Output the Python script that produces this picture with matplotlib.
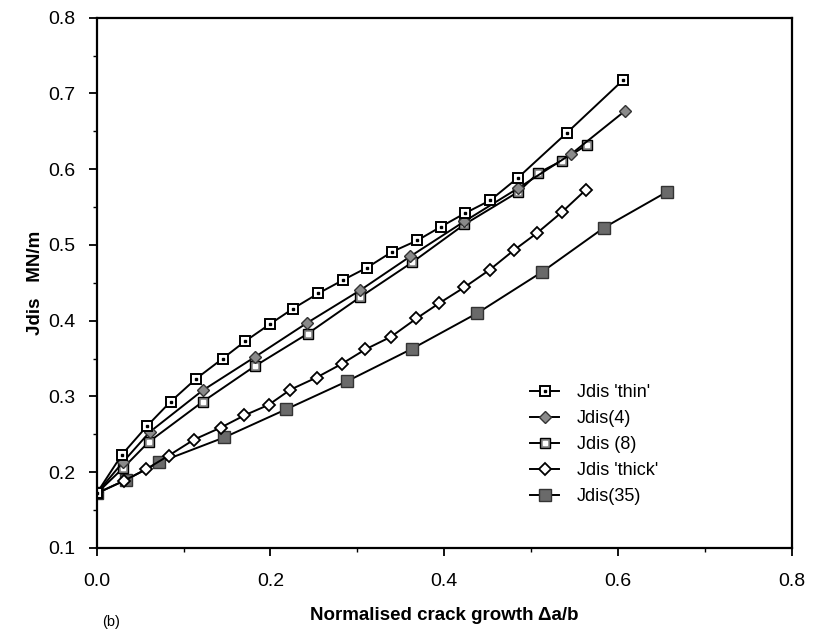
import matplotlib
matplotlib.use('Agg')
import matplotlib.pyplot as plt
from matplotlib.ticker import MultipleLocator, FormatStrFormatter

plt.rcParams['font.family'] = ['Liberation Sans', 'DejaVu Sans']

# data (x = normalised crack growth, y = Jdis MN/m)
thin_x = [0.0, 0.029, 0.058, 0.085, 0.114, 0.145, 0.171, 0.200, 0.226, 0.255, 0.284,
          0.311, 0.340, 0.369, 0.396, 0.424, 0.453, 0.485, 0.541, 0.606]
thin_y = [0.172, 0.223, 0.261, 0.293, 0.323, 0.350, 0.373, 0.396, 0.416, 0.436, 0.454,
          0.470, 0.491, 0.506, 0.524, 0.542, 0.559, 0.589, 0.648, 0.718]

j4_x = [0.0, 0.030, 0.061, 0.122, 0.182, 0.242, 0.303, 0.361, 0.423, 0.485, 0.546, 0.608]
j4_y = [0.172, 0.213, 0.253, 0.308, 0.352, 0.397, 0.440, 0.485, 0.531, 0.575, 0.620, 0.677]

j8_x = [0.0, 0.030, 0.060, 0.122, 0.182, 0.243, 0.303, 0.363, 0.423, 0.485, 0.508, 0.535, 0.564]
j8_y = [0.172, 0.205, 0.240, 0.293, 0.340, 0.383, 0.431, 0.477, 0.527, 0.570, 0.595, 0.611, 0.632]

thick_x = [0.0, 0.032, 0.057, 0.083, 0.112, 0.143, 0.170, 0.198, 0.223, 0.253, 0.282,
           0.309, 0.339, 0.368, 0.394, 0.423, 0.452, 0.480, 0.507, 0.535, 0.563]
thick_y = [0.172, 0.189, 0.204, 0.222, 0.243, 0.259, 0.275, 0.289, 0.309, 0.325, 0.343,
           0.362, 0.379, 0.403, 0.423, 0.444, 0.467, 0.493, 0.516, 0.543, 0.573]

j35_x = [0.0, 0.034, 0.072, 0.147, 0.218, 0.288, 0.363, 0.438, 0.512, 0.584, 0.656]
j35_y = [0.172, 0.190, 0.213, 0.246, 0.283, 0.320, 0.363, 0.410, 0.464, 0.523, 0.570]

fig = plt.figure(figsize=(8.19, 6.32), dpi=100)
ax = fig.add_axes([0.118, 0.133, 0.849, 0.839])

lw = 1.4
ms = 7
# Jdis(35): dark hatched squares
l35 = ax.plot(j35_x, j35_y, '-', color='black', lw=lw, marker='s', ms=ms + 1,
              mfc='#6a6a6a', mec='#333333', mew=1.0)[0]
# Jdis 'thick': open diamonds
lthk = ax.plot(thick_x, thick_y, '-', color='black', lw=lw, marker='D', ms=ms - 0.5,
               mfc='white', mec='black', mew=1.3)[0]
# Jdis (8): grey squares with white centre
l8 = ax.plot(j8_x, j8_y, '-', color='black', lw=lw, marker='s', ms=ms,
             mfc='#8a8a8a', mec='black', mew=1.0)[0]
l8c = ax.plot(j8_x, j8_y, ls='none', marker='s', ms=2.5, mfc='white', mec='white')[0]
# Jdis(4): grey filled diamonds
l4 = ax.plot(j4_x, j4_y, '-', color='black', lw=lw, marker='D', ms=ms - 0.5,
             mfc='#8a8a8a', mec='#333333', mew=1.0)[0]
# Jdis 'thin': open squares with a dot
lthin = ax.plot(thin_x, thin_y, '-', color='black', lw=lw, marker='s', ms=ms,
                mfc='white', mec='black', mew=1.4)[0]
lthind = ax.plot(thin_x, thin_y, ls='none', marker='s', ms=1.8, mfc='black', mec='black')[0]

ax.set_xlim(0.0, 0.8)
ax.set_ylim(0.1, 0.8)
ax.xaxis.set_major_locator(MultipleLocator(0.2))
ax.xaxis.set_minor_locator(MultipleLocator(0.1))
ax.yaxis.set_major_locator(MultipleLocator(0.1))
ax.yaxis.set_minor_locator(MultipleLocator(0.05))
ax.xaxis.set_major_formatter(FormatStrFormatter('%.1f'))
ax.yaxis.set_major_formatter(FormatStrFormatter('%.1f'))
ax.tick_params(which='major', direction='out', length=6, width=1.3, labelsize=14)
ax.tick_params(which='minor', direction='out', length=3, width=1.0)
ax.tick_params(axis='x', pad=12)
ax.tick_params(axis='y', pad=9)
for s in ax.spines.values():
    s.set_linewidth(1.6)

ax.set_xlabel('Normalised crack growth \u0394a/b', fontsize=13.5, fontweight='bold', labelpad=12)
ax.set_ylabel('Jdis   MN/m', fontsize=13.5, fontweight='bold', labelpad=3)
fig.text(0.125, 0.01, '(b)', fontsize=10.5)

ax.legend([(lthin, lthind), l4, (l8, l8c), lthk, l35],
          ["Jdis 'thin'", 'Jdis(4)', 'Jdis (8)', "Jdis 'thick'", 'Jdis(35)'],
          loc='upper left', bbox_to_anchor=(0.6, 0.34), frameon=False,
          fontsize=13, handlelength=1.6, labelspacing=0.5, handletextpad=1.0)

fig.savefig('out.png', dpi=100)
